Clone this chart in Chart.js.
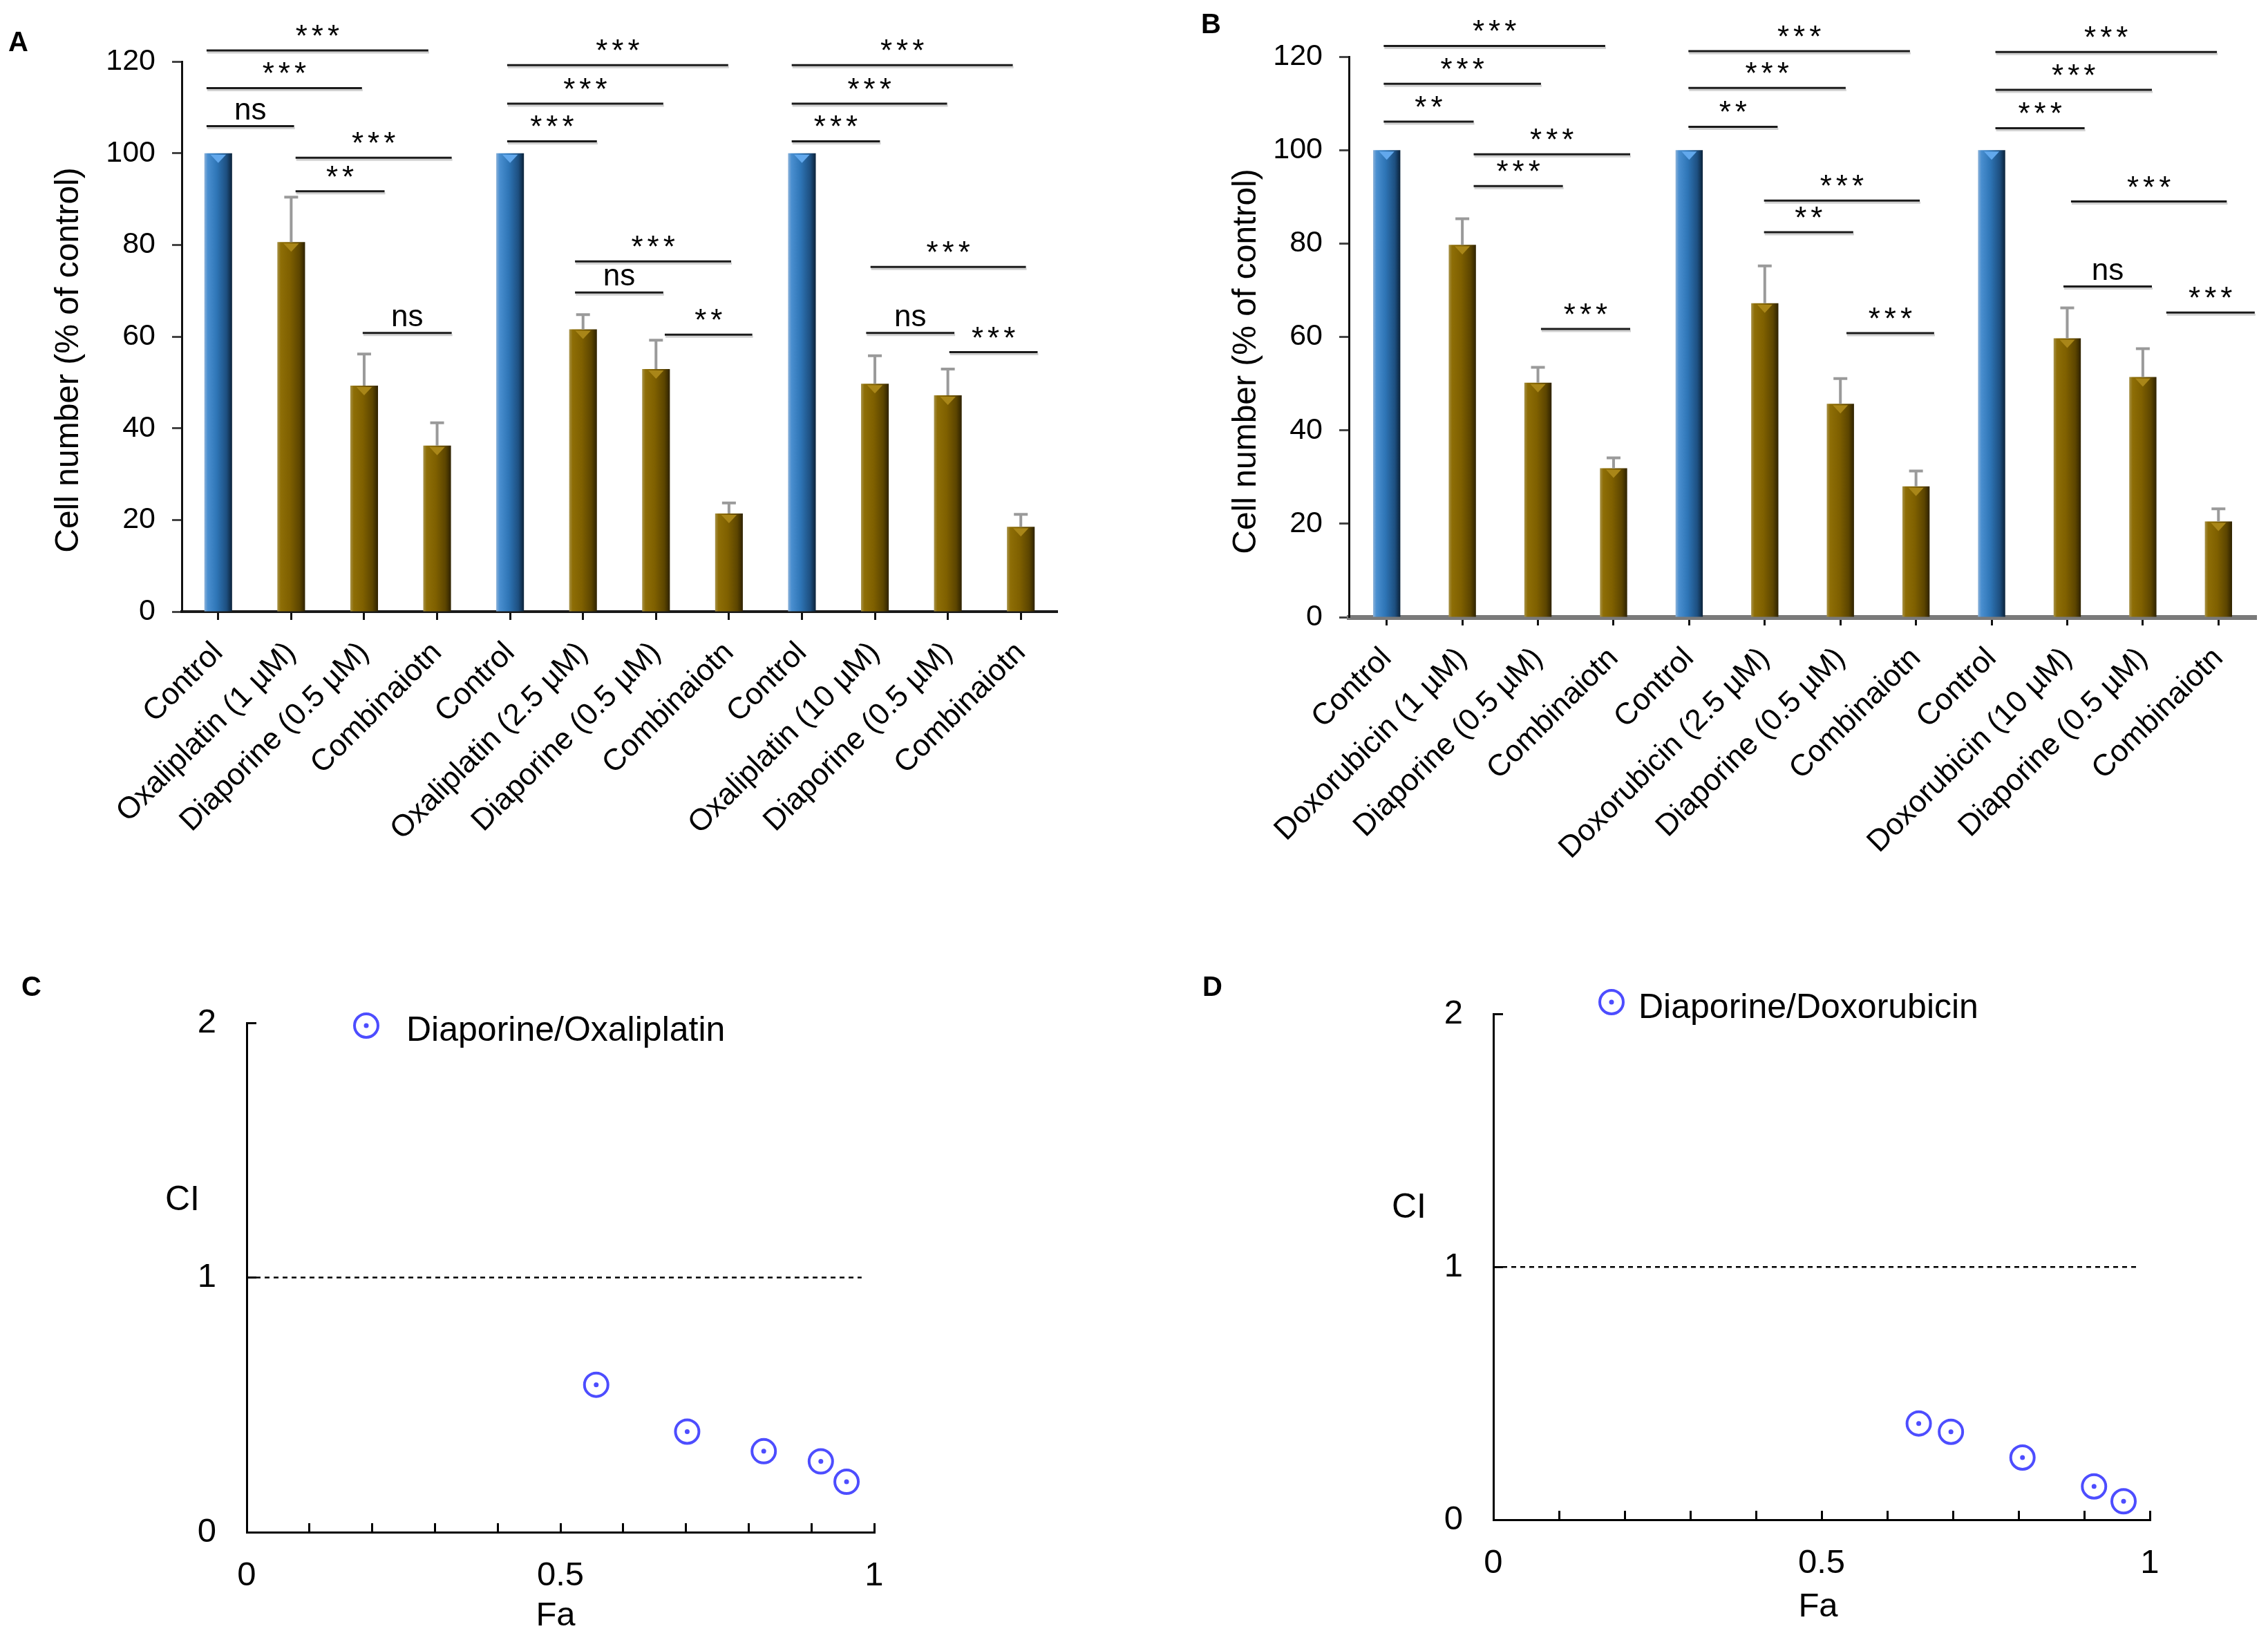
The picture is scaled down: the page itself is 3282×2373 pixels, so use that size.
<!DOCTYPE html>
<html><head><meta charset="utf-8">
<script src="https://cdn.jsdelivr.net/npm/chart.js@4.4.1/dist/chart.umd.min.js"></script>
<style>
html,body{margin:0;padding:0;background:#fff;}
#page{position:relative;width:3282px;height:2373px;overflow:hidden;background:#fff;font-family:'Liberation Sans',Arial,sans-serif;}
.panel{position:absolute;}
.letter{position:absolute;font-weight:bold;font-size:40px;line-height:40px;color:#000;}
</style></head><body>
<div id="page">
  <div class="panel" style="left:0;top:0;width:1650px;height:1320px"><canvas id="cA"></canvas></div>
  <div class="panel" style="left:1700px;top:0;width:1582px;height:1320px"><canvas id="cB"></canvas></div>
  <div class="panel" style="left:0;top:1380px;width:1650px;height:993px"><canvas id="cC"></canvas></div>
  <div class="panel" style="left:1700px;top:1380px;width:1582px;height:993px"><canvas id="cD"></canvas></div>
  <div class="letter" style="left:12px;top:40px">A</div>
  <div class="letter" style="left:1738px;top:14px">B</div>
  <div class="letter" style="left:31px;top:1407px">C</div>
  <div class="letter" style="left:1740px;top:1407px">D</div>
</div>
<script>
// ---------------- DATA ----------------
const catsA = ["Control","Oxaliplatin (1 µM)","Diaporine (0.5 µM)","Combinaiotn","Control","Oxaliplatin (2.5 µM)","Diaporine (0.5 µM)","Combinaiotn","Control","Oxaliplatin (10 µM)","Diaporine (0.5 µM)","Combinaiotn"];
const valuesA = [100, 80.6, 49.3, 36.2, 100, 61.6, 52.9, 21.4, 100, 49.7, 47.2, 18.5];
const errorsA = [0, 9.8, 6.9, 5.0, 0, 3.2, 6.3, 2.3, 0, 6.1, 5.7, 2.7];

const catsB = ["Control","Doxorubicin (1 µM)","Diaporine (0.5 µM)","Combinaiotn","Control","Doxorubicin (2.5 µM)","Diaporine (0.5 µM)","Combinaiotn","Control","Doxorubicin (10 µM)","Diaporine (0.5 µM)","Combinaiotn"];
const valuesB = [100, 79.7, 50.2, 31.9, 100, 67.2, 45.7, 28.0, 100, 59.7, 51.4, 20.5];
const errorsB = [0, 5.6, 3.3, 2.2, 0, 8.0, 5.4, 3.3, 0, 6.5, 6.1, 2.7];

const yTicksBar = [0, 20, 40, 60, 80, 100, 120];

// significance brackets: [from category, to category, level, label]
const sigA = [
  [-0.16, 2.88, 122.4, "***"], [-0.16, 1.97, 114.2, "***"], [-0.16, 1.04, 105.9, "ns"],
  [1.06, 3.20, 99.0, "***"], [1.06, 2.28, 91.7, "**"], [1.98, 3.20, 60.8, "ns"],
  [3.96, 6.99, 119.2, "***"], [3.96, 6.10, 110.8, "***"], [3.96, 5.19, 102.6, "***"],
  [4.89, 7.03, 76.4, "***"], [4.89, 6.10, 69.6, "ns"], [6.12, 7.32, 60.4, "**"],
  [7.86, 10.89, 119.2, "***"], [7.86, 9.99, 110.8, "***"], [7.86, 9.07, 102.6, "***"],
  [8.94, 11.07, 75.2, "***"], [8.88, 10.09, 60.8, "ns"], [10.02, 11.23, 56.6, "***"]
];
const sigB = [
  [-0.04, 2.89, 122.3, "***"], [-0.04, 2.04, 114.2, "***"], [-0.04, 1.15, 106.1, "**"],
  [1.15, 3.22, 99.1, "***"], [1.15, 2.33, 92.3, "***"], [2.04, 3.22, 61.7, "***"],
  [3.99, 6.92, 121.2, "***"], [3.99, 6.07, 113.3, "***"], [3.99, 5.17, 105.0, "**"],
  [4.99, 7.05, 89.2, "***"], [4.99, 6.17, 82.4, "**"], [6.08, 7.24, 60.8, "***"],
  [8.05, 10.98, 121.0, "***"], [8.05, 10.12, 112.9, "***"], [8.05, 9.23, 104.7, "***"],
  [9.05, 11.11, 89.0, "***"], [8.95, 10.12, 70.8, "ns"], [10.31, 11.48, 65.2, "***"]
];

const faC = [0.557, 0.702, 0.824, 0.915, 0.956];
const ciC = [0.579, 0.395, 0.318, 0.278, 0.198];
const faD = [0.648, 0.697, 0.806, 0.915, 0.960];
const ciD = [0.381, 0.348, 0.246, 0.132, 0.073];
const ciRef = 1;          // additivity line
const refEndFa = 0.98;
const xTickLabelsCI = [0, 0.5, 1];
const yTicksCI = [0, 1, 2];

// ---------------- STYLE / HELPERS ----------------
const FONT = "'Liberation Sans', Arial, Helvetica, sans-serif";
Chart.defaults.font.family = FONT;
Chart.defaults.color = '#000';
Chart.defaults.animation = false;

const BLUE = {edge:'#8db3da', light:'#4a8fd0', mid:'#2e75b6', deep:'#1d4f80', dark:'#0b2239', tip:'#62a8ec'};
const GOLD = {edge:'#a8934a', light:'#8e6e06', mid:'#7f6000', deep:'#5c4500', dark:'#2e2200', tip:'#a98618'};
const MARK = '#4d4dff';

function barFill(cats, pct) {
  return (c) => {
    const isCtrl = cats[c.dataIndex] === 'Control';
    const pal = isCtrl ? BLUE : GOLD;
    const chart = c.chart, xs = chart.scales && chart.scales.x;
    if (c.dataIndex === undefined || !xs) return pal.mid;
    const p0 = xs.getPixelForValue(0), p1 = xs.getPixelForValue(1);
    const cx = xs.getPixelForValue(c.dataIndex);
    if (!isFinite(p0) || !isFinite(p1) || !isFinite(cx)) return pal.mid;
    const w = (p1 - p0) * pct;
    const g = chart.ctx.createLinearGradient(cx - w / 2, 0, cx + w / 2, 0);
    g.addColorStop(0, pal.edge); g.addColorStop(0.12, pal.light);
    g.addColorStop(0.45, pal.mid); g.addColorStop(0.8, pal.deep); g.addColorStop(1, pal.dark);
    return g;
  };
}

// small pyramid-tip highlight on top of each bar
function makeBarTips(cats, vals, pct) {
  return {
    id: 'barTips',
    afterDatasetsDraw(chart) {
      const {ctx} = chart, x = chart.scales.x, y = chart.scales.y;
      const w = (x.getPixelForValue(1) - x.getPixelForValue(0)) * pct;
      ctx.save();
      vals.forEach((v, i) => {
        const pal = cats[i] === 'Control' ? BLUE : GOLD;
        const cx = x.getPixelForValue(i), top = y.getPixelForValue(v);
        ctx.fillStyle = pal.tip;
        ctx.beginPath(); ctx.moveTo(cx - w * 0.28, top + 2); ctx.lineTo(cx + w * 0.28, top + 2);
        ctx.lineTo(cx, top + 14); ctx.closePath(); ctx.fill();
      });
      ctx.restore();
    }
  };
}

function makeErrorBars(vals, errs, color, width, cap) {
  return {
    id: 'errorBars',
    afterDatasetsDraw(chart) {
      const {ctx} = chart, x = chart.scales.x, y = chart.scales.y;
      ctx.save(); ctx.strokeStyle = color; ctx.lineWidth = width;
      errs.forEach((e, i) => {
        if (!e) return;
        const px = x.getPixelForValue(i);
        const y0 = y.getPixelForValue(vals[i]), y1 = y.getPixelForValue(vals[i] + e);
        ctx.beginPath(); ctx.moveTo(px, y0); ctx.lineTo(px, y1);
        ctx.moveTo(px - cap / 2, y1); ctx.lineTo(px + cap / 2, y1); ctx.stroke();
      });
      ctx.restore();
    }
  };
}

function makeBrackets(list, fontSize, color) {
  return {
    id: 'brackets',
    afterDraw(chart) {
      const {ctx} = chart, x = chart.scales.x, y = chart.scales.y;
      ctx.save();
      list.forEach(([a, b, lv, lab]) => {
        const xa = x.getPixelForValue(a), xb = x.getPixelForValue(b), py = y.getPixelForValue(lv);
        ctx.strokeStyle = 'rgba(0,0,0,0.18)'; ctx.lineWidth = 3;
        ctx.beginPath(); ctx.moveTo(xa + 1, py + 3); ctx.lineTo(xb + 1, py + 3); ctx.stroke();
        ctx.strokeStyle = color; ctx.lineWidth = 3;
        ctx.beginPath(); ctx.moveTo(xa, py); ctx.lineTo(xb, py); ctx.stroke();
        ctx.fillStyle = '#000'; ctx.font = fontSize + 'px ' + FONT;
        ctx.textAlign = 'center'; ctx.textBaseline = 'alphabetic';
        const sp = lab.indexOf('*') >= 0 ? 6 : 0;
        ctx.letterSpacing = sp + 'px';
        ctx.fillText(lab, (xa + xb) / 2 + sp / 2, py - (lab === 'ns' ? 10 : 6));
      });
      ctx.restore();
    }
  };
}

function makeTexts(list) {
  return {
    id: 'texts',
    afterDraw(chart) {
      const {ctx} = chart;
      list.forEach(t => {
        ctx.save();
        ctx.translate(t.x, t.y); ctx.rotate((t.rot || 0) * Math.PI / 180);
        ctx.font = t.size + 'px ' + FONT; ctx.fillStyle = '#000';
        ctx.textAlign = t.align || 'center'; ctx.textBaseline = t.base || 'middle';
        ctx.fillText(t.text, 0, 0);
        ctx.restore();
      });
    }
  };
}

function makeLegend(mx, my, tx, ty, text) {
  return {
    id: 'legendCustom',
    afterDraw(chart) {
      const {ctx} = chart;
      ctx.save();
      ctx.strokeStyle = MARK; ctx.lineWidth = 4;
      ctx.beginPath(); ctx.arc(mx, my, 17, 0, Math.PI * 2); ctx.stroke();
      ctx.fillStyle = MARK; ctx.beginPath(); ctx.arc(mx, my, 3.5, 0, Math.PI * 2); ctx.fill();
      ctx.fillStyle = '#000'; ctx.font = '50px ' + FONT;
      ctx.textAlign = 'left'; ctx.textBaseline = 'alphabetic';
      ctx.fillText(text, tx, ty);
      ctx.restore();
    }
  };
}

// ---------------- BAR CHARTS ----------------
function barChart(id, cats, vals, errs, sig, geo, axisStyle) {
  const pct = geo.barPct;
  return new Chart(document.getElementById(id), {
    type: 'bar',
    data: {labels: cats, datasets: [{data: vals, backgroundColor: barFill(cats, pct),
      borderWidth: 0, barPercentage: pct, categoryPercentage: 1}]},
    options: {
      responsive: true, maintainAspectRatio: false, devicePixelRatio: 1, animation: false,
      layout: {padding: {left: 0, top: geo.top, right: geo.W - geo.right, bottom: 0}},
      plugins: {legend: {display: false}, tooltip: {enabled: false}},
      scales: {
        x: {
          ticks: {autoSkip: false, maxRotation: 45, minRotation: 45, font: {size: 44}, padding: geo.xPad, color: '#000'},
          grid: {offset: false, drawOnChartArea: false, tickLength: 12, tickColor: '#111', tickWidth: 3},
          border: {color: axisStyle.xColor, width: axisStyle.xWidth},
          afterFit: s => { s.height = geo.H - geo.bottom; }
        },
        y: {
          min: 0, max: 120,
          afterBuildTicks: s => { s.ticks = yTicksBar.map(v => ({value: v})); },
          ticks: {font: {size: 43}, padding: geo.yPad, color: '#000'},
          grid: {drawOnChartArea: false, tickLength: 14, tickColor: '#444', tickWidth: 3},
          border: {color: '#111', width: 3},
          afterFit: s => { s.width = geo.left; }
        }
      }
    },
    plugins: [makeBarTips(cats, vals, pct), makeErrorBars(vals, errs, '#9a9a9a', 4, 20), makeBrackets(sig, 44, '#1a1a1a'),
      makeTexts([{text: 'Cell number (% of control)', x: geo.titleX, y: geo.titleY, rot: -90, size: 48}])]
  });
}

barChart('cA', catsA, valuesA, errorsA, sigA,
  {W: 1650, H: 1320, left: 263, right: 1530, top: 89, bottom: 885, barPct: 0.38, xPad: 22, yPad: 24, titleX: 100, titleY: 521},
  {xColor: '#1a1a1a', xWidth: 4});
barChart('cB', catsB, valuesB, errorsB, sigB,
  {W: 1582, H: 1320, left: 252, right: 1565, top: 82, bottom: 893, barPct: 0.36, xPad: 22, yPad: 24, titleX: 104, titleY: 523},
  {xColor: '#7a7a7a', xWidth: 7});

// ---------------- CI SCATTER CHARTS ----------------
function ciChart(id, fa, ci, name, geo) {
  const pts = fa.map((v, i) => ({x: v, y: ci[i]}));
  const ref = [{x: 0, y: ciRef}, {x: refEndFa, y: ciRef}];
  const near = (v, t) => Math.abs(v - t) < 1e-6;
  return new Chart(document.getElementById(id), {
    type: 'scatter',
    data: {datasets: [
      {label: name, data: pts, pointStyle: 'circle', pointRadius: 17, borderColor: MARK, borderWidth: 4, backgroundColor: 'rgba(0,0,0,0)'},
      {label: name + ' centre', data: pts, pointRadius: 3.5, backgroundColor: MARK, borderWidth: 0},
      {type: 'line', label: 'CI = 1', data: ref, borderColor: '#000', borderWidth: 2.5, borderDash: [7, 6], pointRadius: 0, fill: false}
    ]},
    options: {
      responsive: true, maintainAspectRatio: false, devicePixelRatio: 1, animation: false,
      layout: {padding: {left: 0, top: geo.top, right: geo.W - geo.right, bottom: 0}},
      plugins: {legend: {display: false}, tooltip: {enabled: false}},
      scales: {
        x: {
          type: 'linear', min: 0, max: 1,
          ticks: {stepSize: 0.1, autoSkip: false, maxRotation: 0, font: {size: 49}, padding: geo.xPad, color: '#000',
            callback: v => { const t = xTickLabelsCI.find(k => near(v, k)); return t === undefined ? '' : String(t); }},
          grid: {drawOnChartArea: false, tickLength: -13, tickColor: '#000', tickWidth: 3},
          border: {color: '#000', width: 3},
          afterFit: s => { s.height = geo.H - geo.bottom; }
        },
        y: {
          min: 0, max: 2,
          afterBuildTicks: s => { s.ticks = yTicksCI.map(v => ({value: v})); },
          ticks: {font: {size: 49}, padding: geo.yPad, color: '#000'},
          grid: {drawOnChartArea: false, tickLength: -14, tickColor: '#000', tickWidth: 3},
          border: {color: '#000', width: 3},
          afterFit: s => { s.width = geo.left; }
        }
      }
    },
    plugins: [makeLegend(geo.mx, geo.my, geo.tx, geo.ty, name),
      makeTexts([{text: 'CI', x: geo.ciX, y: geo.ciY, size: 50}, {text: 'Fa', x: geo.faX, y: geo.faY, size: 49}])]
  });
}

ciChart('cC', faC, ciC, 'Diaporine/Oxaliplatin',
  {W: 1650, H: 993, left: 357, right: 1265, top: 100, bottom: 837, xPad: 47, yPad: 58,
   mx: 530, my: 104, tx: 588, ty: 126, ciX: 264, ciY: 357, faX: 804, faY: 958});
ciChart('cD', faD, ciD, 'Diaporine/Doxorubicin',
  {W: 1582, H: 993, left: 461, right: 1411, top: 68, bottom: 819, xPad: 47, yPad: 58,
   mx: 632, my: 70, tx: 671, ty: 93, ciX: 339, ciY: 368, faX: 931, faY: 945});
</script>
</body></html>
